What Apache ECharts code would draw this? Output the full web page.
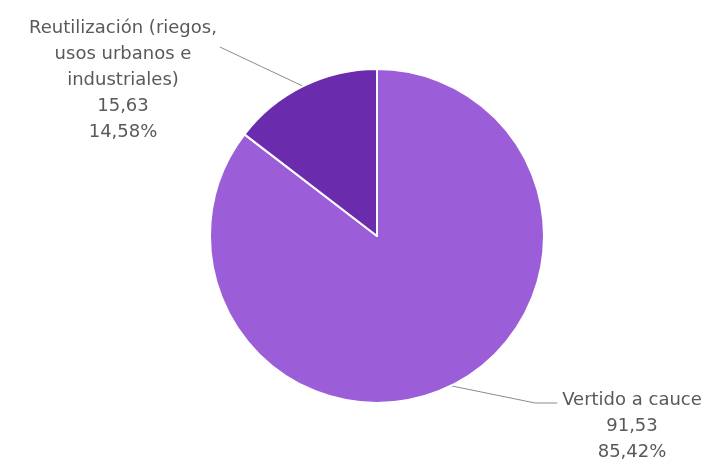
<!DOCTYPE html>
<html>
<head>
<meta charset="utf-8">
<script src="https://cdn.jsdelivr.net/npm/echarts@6/dist/echarts.min.js"></script>
<style>
  html, body { margin: 0; padding: 0; background: #ffffff; }
  #chart { width: 710px; height: 473px; }
</style>
</head>
<body>
<div id="chart"></div>
<script>
// Destino del agua depurada (hm³)
const categories = ['Vertido a cauce', 'Reutilización (riegos,\nusos urbanos e\nindustriales)'];
const values = [91.53, 15.63];
const percentLabels = ['85,42%', '14,58%'];
const sliceColors = ['#9c5ed8', '#6a2bad'];

const fmt = v => v.toFixed(2).replace('.', ',');

// where each label block sits (centre x, top y)
const labelSpots = [
  { x: 632, y: 387 },
  { x: 123, y: 15 }
];

const chart = echarts.init(document.getElementById('chart'), null, { renderer: 'canvas' });

chart.setOption({
  backgroundColor: '#ffffff',
  animation: false,
  series: [{
    type: 'pie',
    center: [377, 236],
    radius: 167,
    startAngle: 90,
    clockwise: true,
    data: categories.map((name, i) => ({
      name: name,
      value: values[i],
      itemStyle: { color: sliceColors[i] }
    })),
    itemStyle: { borderColor: '#ffffff', borderWidth: 2 },
    label: {
      show: true,
      position: 'outside',
      fontFamily: 'DejaVu Sans',
      fontSize: 18,
      lineHeight: 26,
      color: '#595959',
      align: 'center',
      formatter: p => p.name + '\n' + fmt(p.value) + '\n' + percentLabels[p.dataIndex]
    },
    labelLine: {
      show: true,
      length: 20,
      length2: 20,
      lineStyle: { color: '#8c8c8c', width: 1 }
    },
    labelLayout: p => {
      const spot = labelSpots[p.dataIndex];
      const w = p.labelRect.width;
      const anchor = p.labelLinePoints ? p.labelLinePoints[0] : null;
      let pts;
      if (anchor) {
        if (p.dataIndex === 1) {
          // leader runs up-left to the right end of the first text lines
          const end = [spot.x + w / 2 + 3, spot.y + 32];
          pts = [anchor, [(anchor[0] + end[0]) / 2, (anchor[1] + end[1]) / 2], end];
        } else {
          // leader runs down-right, then a short flat run into the text
          const end = [spot.x - w / 2 - 5, spot.y + 16];
          pts = [anchor, [end[0] - 22, end[1]], end];
        }
      }
      const out = { x: spot.x, y: spot.y, align: 'center', verticalAlign: 'top' };
      if (pts) out.labelLinePoints = pts;
      return out;
    },
    emphasis: { disabled: true }
  }]
});
</script>
</body>
</html>
